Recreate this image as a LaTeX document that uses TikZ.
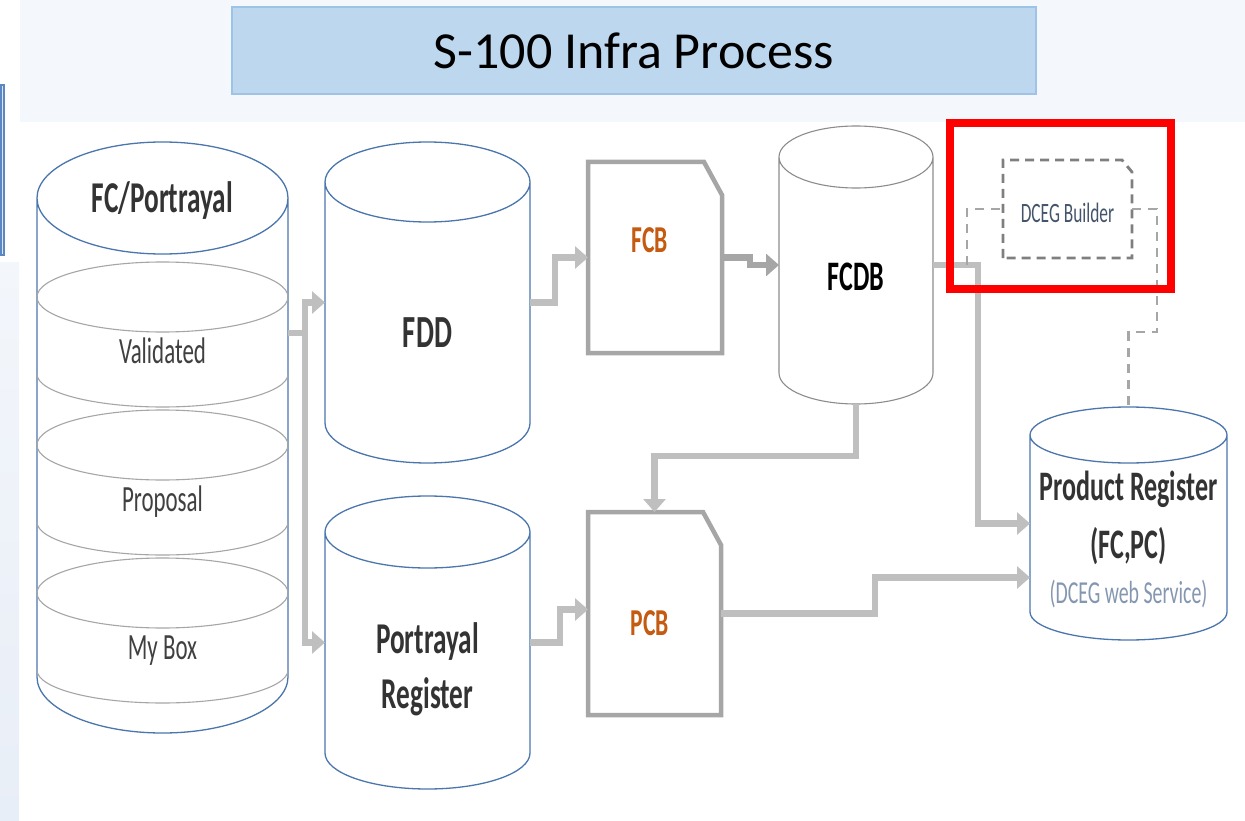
\documentclass[tikz,border=0pt]{standalone}
\usepackage{fontspec}
\setmainfont{Carlito}
\newfontfamily\slimfont[FakeStretch=0.62]{Carlito}
\usetikzlibrary{arrows.meta,calc,positioning}

\definecolor{bandfill}{HTML}{F4F7FB}
\definecolor{stripa}{HTML}{F3F6FB}
\definecolor{stripb}{HTML}{E8EEF7}
\definecolor{tabfill}{HTML}{DDE6EE}
\definecolor{tabline}{HTML}{5B87C5}
\definecolor{titlefill}{HTML}{BDD7EE}
\definecolor{titleline}{HTML}{9DC3E6}
\definecolor{drumblue}{HTML}{4A76AD}
\definecolor{drumgray}{HTML}{8C8C8C}
\definecolor{layergray}{HTML}{A6A6A6}
\definecolor{docgray}{HTML}{A6A6A6}
\definecolor{flowgray}{HTML}{BFBFBF}
\definecolor{flowdark}{HTML}{A6A6A6}
\definecolor{boxgray}{HTML}{7F7F7F}
\definecolor{inkdark}{HTML}{333333}
\definecolor{inklayer}{HTML}{404040}
\definecolor{inkorange}{HTML}{C55A11}
\definecolor{inkmuted}{HTML}{8497B0}
\definecolor{inkslate}{HTML}{44546A}

\newcommand{\dbdrum}[3]{%
	\draw[#3, fill=white] let \p1=($(#1.north east)-(#1.north west)$) in
		(#1.north west) -- (#1.south west) arc[start angle=180, end angle=360, x radius=0.5*\x1, y radius=#2]
		-- (#1.north east) arc[start angle=0, end angle=180, x radius=0.5*\x1, y radius=#2]
		(#1.north) ellipse[x radius=0.5*\x1, y radius=#2];
}
\newcommand{\docsheet}[1]{%
	\draw[docline] (#1.south west) -- (#1.north west) -- ([xshift=-18pt]#1.north east)
		-- ([yshift=-33pt]#1.north east) -- (#1.south east) -- cycle;
}

\begin{document}
\begin{tikzpicture}[x=1pt, y=-1pt,
	body/.style={inner sep=0pt, outer sep=0pt},
	blueline/.style={draw=drumblue, line width=1.3pt},
	grayline/.style={draw=drumgray, line width=1.1pt},
	layer/.style={draw=layergray, line width=1.1pt},
	docline/.style={draw=docgray, line width=4.5pt, fill=white},
	flow/.style={draw=flowgray, line width=6.5pt, -{Triangle[length=13pt 0, width=22pt 0]}},
	link/.style={draw=layergray, line width=2.2pt, dash pattern=on 9pt off 7pt},
	builder/.style={draw=boxgray, line width=2.8pt, dash pattern=on 9pt off 6pt},
	hilite/.style={draw=red, line width=7.5pt},
	titlebox/.style={fill=titlefill, draw=titleline, line width=2pt, inner sep=0pt},
	bigtxt/.style={font=\slimfont\bfseries\fontsize{44}{55}\selectfont, text=inkdark, anchor=base, inner sep=0pt},
	layertxt/.style={font=\slimfont\fontsize{37}{44}\selectfont, text=inklayer, anchor=base, inner sep=0pt},
	orangetxt/.style={font=\slimfont\bfseries\fontsize{38}{44}\selectfont, text=inkorange, anchor=base, inner sep=0pt},
	]
	\useasboundingbox (0,0) rectangle (1245,821);
	\fill[bandfill] (20,0) rectangle (1245,122);
	\shade[top color=stripa, bottom color=stripb] (0,262) rectangle (19,821);
	\filldraw[fill=tabfill, draw=tabline, line width=2pt] (1,85) rectangle (4,255);

	\node[titlebox, minimum width=804pt, minimum height=87pt, font=\fontsize{52}{60}\selectfont] (title) at (634,51) {S-100 Infra Process};

	\node[body, minimum width=251pt, minimum height=479pt] (fcp) at (162.5,437.5) {};
	\dbdrum{fcp}{56pt}{blueline}
	\foreach \c/\t [count=\i] in {297/Validated, 445/Proposal, 593/My Box}{
		\draw[layer] (162.5,\c) ellipse[x radius=125.5pt, y radius=35pt];
		\draw[layer] (37,\c+77) arc[start angle=180, end angle=360, x radius=125.5pt, y radius=33pt];
		\node[layertxt] (layer\i) at (162.5,\c+66) {\t};
	}
	\node[bigtxt] (fcptxt) at (162.5,213) {FC/Portrayal};

	\node[body, minimum width=205pt, minimum height=241pt] (fdd) at (427.5,302.5) {};
	\dbdrum{fdd}{40pt}{blueline}
	\node[bigtxt, font=\slimfont\bfseries\fontsize{46}{55}\selectfont] (fddtxt) at (427.5,347) {FDD};

	\node[body, minimum width=205pt, minimum height=221pt] (preg) at (427.5,642.5) {};
	\dbdrum{preg}{36pt}{blueline}
	\node[bigtxt] (pregtxt) at (427.5,653) {Portrayal};
	\node[bigtxt] (pregtxt2) at (427.5,708) {Register};

	\node[body, minimum width=134pt, minimum height=191pt] (fcb) at (655,257.5) {};
	\docsheet{fcb}
	\node[orangetxt] (fcbtxt) at (650,252) {FCB};

	\node[body, minimum width=133pt, minimum height=203pt] (pcb) at (654.5,613.5) {};
	\docsheet{pcb}
	\node[orangetxt] (pcbtxt) at (650,635) {PCB};

	\node[body, minimum width=154pt, minimum height=216pt] (fcdb) at (856,265) {};
	\dbdrum{fcdb}{31pt}{grayline}
	\node[bigtxt, text=black, font=\slimfont\bfseries\fontsize{42}{50}\selectfont] (fcdbtxt) at (856,290) {FCDB};

	\node[body, minimum width=197pt, minimum height=177pt] (prodreg) at (1128.5,523.5) {};
	\dbdrum{prodreg}{28pt}{blueline}
	\node[bigtxt, font=\slimfont\bfseries\fontsize{42}{50}\selectfont] (prodtxt) at (1128.5,500) {Product Register};
	\node[bigtxt, font=\slimfont\bfseries\fontsize{42}{50}\selectfont] (prodtxt2) at (1128.5,558) {(FC,PC)};
	\node[bigtxt, text=inkmuted, font=\slimfont\fontsize{32}{40}\selectfont] (prodtxt3) at (1128.5,603) {(DCEG web Service)};

	\coordinate (fork) at (305,333);
	\draw[flow] (fcp.east |- fork) -- (fork) |- (fdd.west);
	\draw[flow] (fork) |- (preg.west);
	\draw[flow] (fdd.east) -- ++(25,0) |- (fcb.west);
	\draw[flow, draw=flowdark] (fcb.east) -- ++(28,0) |- (fcdb.west);
	\draw[flow] (fcdb.east) -- ++(45,0) |- (prodreg.west);
	\draw[flow] ([yshift=-31pt]fcdb.south) -- ++(0,52) -| (pcb.north);
	\draw[flow] (preg.east) -- ++(30,0) |- ([yshift=4pt]pcb.west);
	\draw[flow] (pcb.east) -- ++(154,0) |- ([yshift=-54pt]prodreg.west);

	\node[body, minimum width=129pt, minimum height=98pt] (dceg) at (1067.5,209) {};
	\draw[builder] (dceg.south west) -- (dceg.north west) -- ([xshift=-10pt]dceg.north east)
		-- ([yshift=-12pt]dceg.north east) -- (dceg.south east) -- cycle;
	\node[bigtxt, text=inkslate, font=\slimfont\fontsize{28}{34}\selectfont] (dcegtxt) at (1067.5,223) {DCEG Builder};

	\coordinate (tap) at (967,265);
	\draw[link] (tap) |- (dceg.west);
	\draw[link] (dceg.east) -- ++(25,0) -- ++(0,123) -| ([yshift=28pt]prodreg.north);

	\draw[hilite] (950,123) rectangle (1171,289);
\end{tikzpicture}
\end{document}
